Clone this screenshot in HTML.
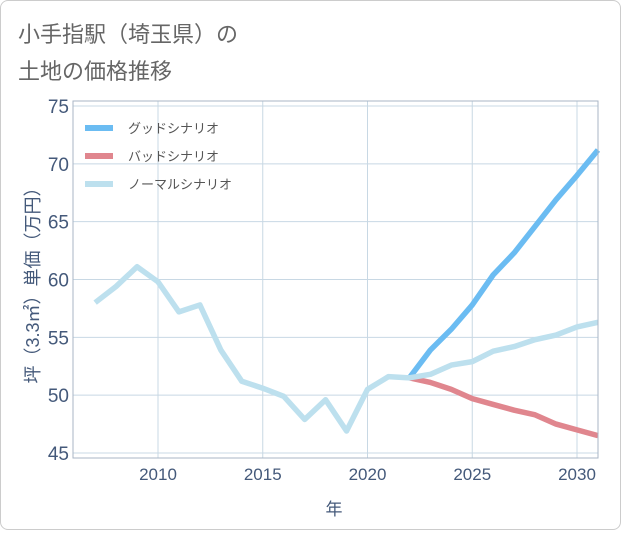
<!DOCTYPE html>
<html><head><meta charset="utf-8"><style>
body{margin:0;background:#fff;font-family:"Liberation Sans","Noto Sans CJK JP",sans-serif}
#card{position:absolute;left:0;top:0;width:619px;height:528px;border:1px solid #ccc;border-radius:8px;background:#fff}
</style></head><body>
<div id="card">
<svg width="621" height="530">
<text x="17" y="41" font-size="22" fill="#666">小手指駅（埼玉県）の</text>
<text x="17" y="78" font-size="22" fill="#666">土地の価格推移</text>
<g id="grid"></g><g id="series"></g><g id="axes"></g>
<text transform="translate(38,280) rotate(-90)" text-anchor="middle" font-size="18" fill="#44597a">坪（3.3㎡）単価（万円）</text>
<text x="333" y="514" text-anchor="middle" font-size="17" fill="#44597a">年</text>
<g>
<line x1="84" y1="127" x2="112" y2="127" stroke="#6bbcf2" stroke-width="6"/>
<text x="127" y="132" font-size="13" fill="#555">グッドシナリオ</text>
<line x1="84" y1="155" x2="112" y2="155" stroke="#e0868e" stroke-width="6"/>
<text x="127" y="160" font-size="13" fill="#555">バッドシナリオ</text>
<line x1="84" y1="183" x2="112" y2="183" stroke="#bde0ee" stroke-width="6"/>
<text x="127" y="188" font-size="13" fill="#555">ノーマルシナリオ</text>
</g>
</svg></div>
<script>
const normalYears=[2007,2008,2009,2010,2011,2012,2013,2014,2015,2016,2017,2018,2019,2020,2021,2022,2023,2024,2025,2026,2027,2028,2029,2030,2031];
const normalValues=[58,59.4,61.1,59.8,57.2,57.8,53.9,51.2,50.6,49.9,47.9,49.6,46.9,50.5,51.6,51.5,51.8,52.6,52.9,53.8,54.2,54.8,55.2,55.9,56.3];
const forecastYears=[2022,2023,2024,2025,2026,2027,2028,2029,2030,2031];
const goodValues=[51.5,53.9,55.7,57.8,60.4,62.3,64.6,66.9,69.0,71.2];
const badValues=[51.5,51.1,50.5,49.7,49.2,48.7,48.3,47.5,47.0,46.5];
const yTicks=[45,50,55,60,65,70,75];
const xTicks=[2010,2015,2020,2025,2030];
const NS="http://www.w3.org/2000/svg";
const L=72,R=597,T=100,B=457;
const x=v=>157+(v-2010)*(576-157)/20;
const y=v=>452-(v-45)*(452-105)/30;
function mk(t,a,p){const e=document.createElementNS(NS,t);for(const k in a)e.setAttribute(k,a[k]);p.appendChild(e);return e;}
const grid=document.getElementById('grid'),axes=document.getElementById('axes'),ser=document.getElementById('series');
yTicks.forEach(v=>{const l=mk('line',{x1:L,x2:R,y1:y(v),y2:y(v),stroke:'#c8d8e4'},grid);


const t=mk('text',{x:L-4,y:y(v)+7,'text-anchor':'end','font-size':'19',fill:'#44597a'},axes);t.textContent=v;

});
xTicks.forEach(v=>{const l=mk('line',{x1:x(v),x2:x(v),y1:T,y2:B,stroke:'#c8d8e4'},grid);


const t=mk('text',{x:x(v),y:B+22,'text-anchor':'middle','font-size':'17',fill:'#44597a'},axes);t.textContent=v;

});
const fr=mk('rect',{x:L,y:T,width:R-L,height:B-T,fill:'none',stroke:'#a9b6c6'},axes);


function line(xs,vs,c,n){const p=mk('polyline',{points:xs.map((a,i)=>x(a)+','+y(vs[i])).join(' '),fill:'none',stroke:c,'stroke-width':5.5,'stroke-linejoin':'round'},ser);

}
line(forecastYears,goodValues,'#6bbcf2','good-scenario-line');
line(forecastYears,badValues,'#e0868e','bad-scenario-line');
line(normalYears,normalValues,'#bde0ee','normal-scenario-line');
</script>
</body></html>
